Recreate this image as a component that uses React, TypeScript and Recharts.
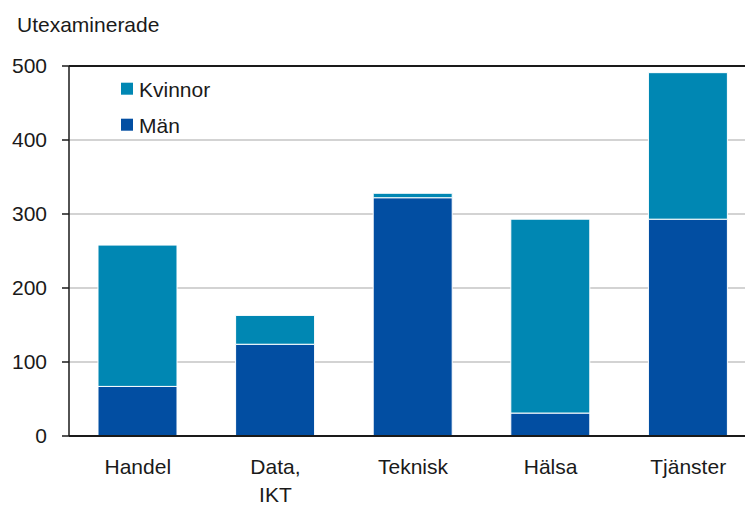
import React from "react";
import { BarChart, Bar, XAxis, YAxis, CartesianGrid, ReferenceLine } from "recharts";

const categories = ["Handel", "Data, IKT", "Teknisk", "Hälsa", "Tjänster"];
const man = [67, 124, 322, 31, 293];
const kvinnor = [191, 39, 6, 262, 198];
const yTicks = [0, 100, 200, 300, 400, 500];
const seriesNames = ["Kvinnor", "Män"];
const seriesColors = ["#0087B3", "#024EA2"];
const title = "Utexaminerade";

const data = categories.map((c, i) => ({ name: c, man: man[i], kvinnor: kvinnor[i] }));

const FONT = "'Liberation Sans', Arial, sans-serif";

const CatTick = (props: any) => {
  const { x, y, payload } = props;
  const lines = String(payload.value).split(" ");
  return (
    <text x={x} y={y} textAnchor="middle" fontFamily={FONT} fontSize={21} fill="#1a1a1a">
      {lines.map((l: string, i: number) => (
        <tspan key={i} x={x} y={y + 38 + i * 28}>
          {l}
        </tspan>
      ))}
    </text>
  );
};

export default function App() {
  return (
    <div style={{ position: "relative", width: 745, height: 498, overflow: "hidden" }}>
      <BarChart
        width={750}
        height={498}
        data={data}
        margin={{ top: 58, right: 1, bottom: 10, left: 0 }}
        barSize={79}
      >
        <CartesianGrid vertical={false} stroke="#c4c4c4" strokeWidth={1.5} />
        <XAxis
          dataKey="name"
          tick={<CatTick />}
          tickLine={false}
          tickSize={0}
          tickMargin={0}
          height={60}
          axisLine={{ stroke: "#1a1a1a", strokeWidth: 2 }}
          interval={0}
        />
        <YAxis
          width={61}
          domain={[0, 500]}
          ticks={yTicks}
          interval={0}
          tickSize={7}
          tickMargin={15}
          axisLine={{ stroke: "#1a1a1a", strokeWidth: 1.5 }}
          tickLine={{ stroke: "#1a1a1a", strokeWidth: 1.5 }}
          tick={{ fontFamily: FONT, fontSize: 21, fill: "#1a1a1a" }}
        />
        <ReferenceLine y={500} stroke="#1a1a1a" strokeWidth={2} />
        <Bar dataKey="man" stackId="a" fill={seriesColors[1]} stroke="#ffffff" strokeWidth={1} isAnimationActive={false} />
        <Bar dataKey="kvinnor" stackId="a" fill={seriesColors[0]} stroke="#ffffff" strokeWidth={1} isAnimationActive={false} />
      </BarChart>
      <svg
        width={745}
        height={140}
        style={{ position: "absolute", left: 0, top: 0, pointerEvents: "none" }}
      >
        <text x={9} y={23.7} fontFamily={FONT} fontSize={21} fill="#1a1a1a">
          {title}
        </text>
        {seriesNames.map((n, i) => (
          <g key={n}>
            <rect x={113} y={74.7 + i * 36} width={12} height={12} fill={seriesColors[i]} />
            <text x={131} y={89 + i * 36} fontFamily={FONT} fontSize={21} fill="#1a1a1a">
              {n}
            </text>
          </g>
        ))}
      </svg>
    </div>
  );
}
